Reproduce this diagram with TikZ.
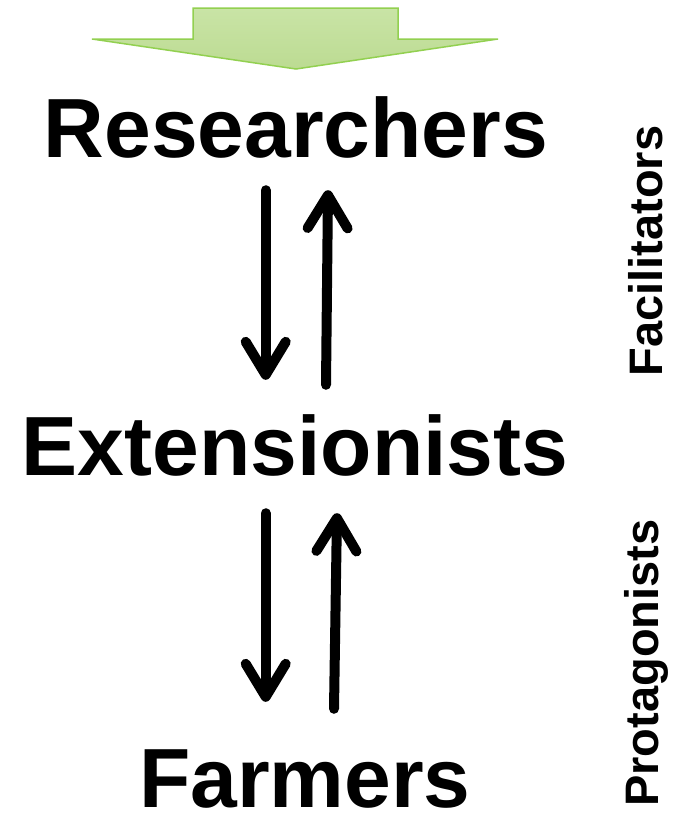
\documentclass[tikz,border=0pt]{standalone}
\usepackage{fontspec}
\setmainfont{Liberation Sans}
\usetikzlibrary{arrows.meta}
\definecolor{arrowfillA}{RGB}{201,228,166}
\definecolor{arrowfillB}{RGB}{188,219,146}
\definecolor{arrowline}{RGB}{146,208,80}
\tikzset{
  bigtext/.style={inner sep=0pt, anchor=base, text height=60pt, text depth=0pt,
    font=\fontsize{84}{100}\selectfont\bfseries},
  sidetext/.style={inner sep=0pt, rotate=90,
    font=\fontsize{47}{56}\selectfont\bfseries},
  flowarrow/.style={line width=10pt, line cap=round,
    -{Straight Barb[length=33pt,width=40pt,round]}}
}
\begin{document}
\begin{tikzpicture}[x=1pt,y=-1pt]
\useasboundingbox (0,0) rectangle (681,822);
% top block arrow
\shade[top color=arrowfillA, bottom color=arrowfillB, draw=arrowline, line width=1.5pt, line join=miter]
  (193,8) -- (398,8) -- (398,39) -- (498,39) -- (296,69) -- (92,39) -- (193,39) -- cycle;
% main labels
\node[bigtext] (res) at (296,157) {Researchers};
\node[bigtext] (ext) at (295,475) {Extensionists};
\node[bigtext] (farm) at (305,807) {Farmers};
% side labels
\node[sidetext] (fac) at (646,251) {Facilitators};
\node[sidetext] (pro) at (646,663) {Protagonists};
% connectors
\draw[flowarrow] ([xshift=-30.3pt,yshift=-33pt]res.south) -- ([xshift=-29.3pt,yshift=35pt]ext.north);
\draw[flowarrow] ([xshift=31pt,yshift=30pt]ext.north) -- ([xshift=32pt,yshift=-33pt]res.south);
\draw[flowarrow] ([xshift=-29.3pt,yshift=-38pt]ext.south) -- ([xshift=-39.3pt,yshift=45pt]farm.north);
\draw[flowarrow] ([xshift=29pt,yshift=38pt]farm.north) -- ([xshift=42pt,yshift=-38pt]ext.south);
\end{tikzpicture}
\end{document}
